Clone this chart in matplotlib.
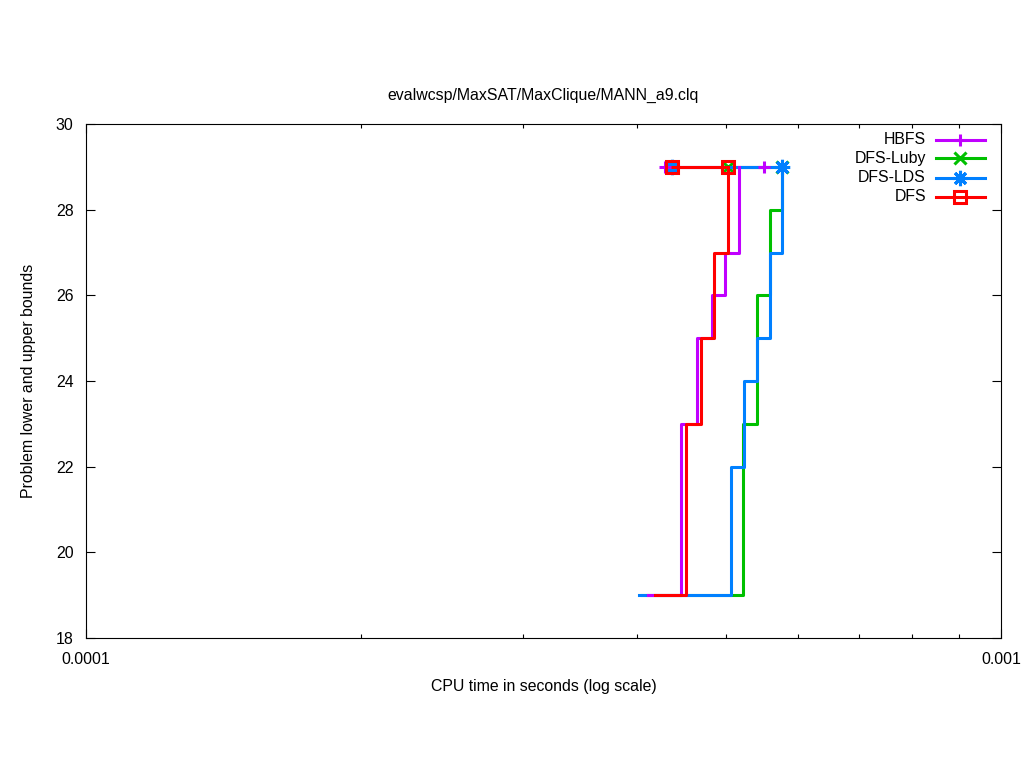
import numpy as np
import matplotlib
matplotlib.use("Agg")
import matplotlib.pyplot as plt
from matplotlib.lines import Line2D

plt.rcParams['font.family'] = ['Liberation Sans', 'DejaVu Sans']

# lower bound steps (time in seconds, bound)
hbfs_lb_t = [4.114e-4, 4.475e-4, 4.65e-4, 4.83e-4, 4.997e-4, 5.176e-4]
hbfs_lb_v = [19, 23, 25, 26, 27, 29]
luby_lb_t = [4.05e-4, 5.229e-4, 5.416e-4, 5.596e-4, 5.767e-4]
luby_lb_v = [19, 23, 26, 28, 29]
lds_lb_t = [4.022e-4, 5.073e-4, 5.237e-4, 5.416e-4, 5.596e-4, 5.767e-4]
lds_lb_v = [19, 22, 24, 25, 27, 29]
dfs_lb_t = [4.187e-4, 4.53e-4, 4.70e-4, 4.86e-4, 5.035e-4]
dfs_lb_v = [19, 23, 25, 27, 29]

# upper bounds
hbfs_ub_t = [4.295e-4, 5.512e-4]
hbfs_ub_v = [29, 29]
luby_ub_t = [5.035e-4, 5.767e-4]
luby_ub_v = [29, 29]
lds_ub_t = [4.371e-4, 5.767e-4]
lds_ub_v = [29, 29]
dfs_ub_t = [4.371e-4, 5.035e-4]
dfs_ub_v = [29, 29]

names = ["HBFS", "DFS-Luby", "DFS-LDS", "DFS"]
colors = ["#c000ff", "#00c000", "#0080ff", "#ff0000"]
star = (8, 2, 0)
markers = ["+", "x", star, "s"]
sizes = [9, 9, 11, 9]
# (lower bound zorder, upper line zorder, marker zorder)
zorders = [(4.2, 3, 6), (1, 1, 2), (4, 4, 4.5), (5, 5, 7)]

series = [
    (hbfs_lb_t, hbfs_lb_v, hbfs_ub_t, hbfs_ub_v),
    (luby_lb_t, luby_lb_v, luby_ub_t, luby_ub_v),
    (lds_lb_t, lds_lb_v, lds_ub_t, lds_ub_v),
    (dfs_lb_t, dfs_lb_v, dfs_ub_t, dfs_ub_v),
]

fs = 11.4
fig = plt.figure(figsize=(10.24, 7.68), dpi=100)
ax = fig.add_axes([86/1024, 1-638/768, 915/1024, 514/768])

lw = 2.2
for (lt, lv, ut, uv), c, m, ms, (zb, zl, zm) in zip(series, colors, markers, sizes, zorders):
    ax.plot(lt, lv, drawstyle="steps-post", color=c, lw=lw, zorder=zb)
    ax.plot(ut, uv, color=c, lw=lw, zorder=zl)
    ax.plot(ut, uv, ls="none", color=c, marker=m, ms=ms, mew=2.2,
            mfc="none", zorder=zm)

ax.set_xscale("log")
ax.set_xlim(1e-4, 1e-3)
ax.set_ylim(18, 30)
ax.set_yticks(np.arange(18, 31, 2))
ax.set_xticks([1e-4, 1e-3])
ax.set_xticklabels(["0.0001", "0.001"])
ax.tick_params(which="both", direction="in", top=True, right=True,
               labelsize=fs, width=0.8)
ax.tick_params(axis="x", pad=10)
ax.tick_params(axis="y", pad=9)
ax.tick_params(which="major", length=6.5)
ax.tick_params(which="minor", length=3)
ax.xaxis.set_minor_formatter(plt.NullFormatter())
for s in ax.spines.values():
    s.set_linewidth(0.8)

ax.set_title("evalwcsp/MaxSAT/MaxClique/MANN_a9.clq", fontsize=fs, pad=17.5)
ax.set_xlabel("CPU time in seconds (log scale)", fontsize=fs, labelpad=9)
ax.set_ylabel("Problem lower and upper bounds", fontsize=fs, labelpad=14)

# gnuplot-style key: text right-aligned, sample on the right
key_y = [0.969, 0.933, 0.8955, 0.8585]
for name, c, m, ms, ky in zip(names, colors, markers, sizes, key_y):
    ax.text(0.918, ky, name, transform=ax.transAxes, ha="right",
            va="center", fontsize=fs)
    ax.add_line(Line2D([0.929, 0.9825], [ky, ky], transform=ax.transAxes,
                       color=c, lw=lw, clip_on=False))
    ax.add_line(Line2D([0.9557], [ky], transform=ax.transAxes, color=c,
                       marker=m, ms=ms, mew=2.2, mfc="none", clip_on=False))

fig.savefig("out.png", dpi=100)
